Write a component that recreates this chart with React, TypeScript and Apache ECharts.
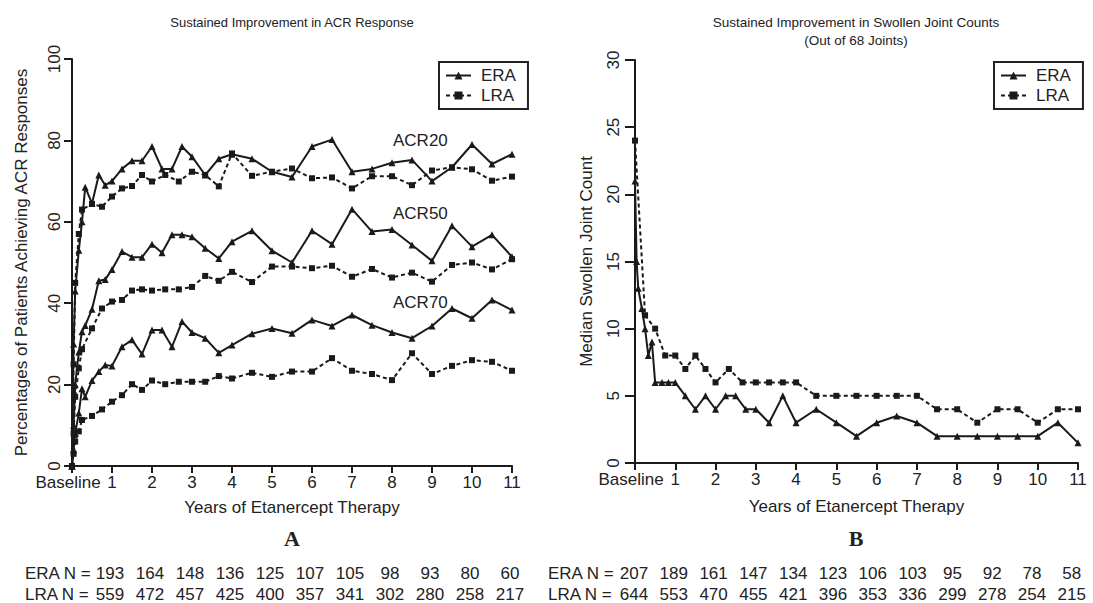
import React, { useEffect, useRef } from 'react';
import * as echarts from 'echarts';

const FONT = '"Liberation Sans", Arial, Helvetica, sans-serif';
const INK = '#1a1a1a';

// ---------- Panel A: ACR responses (%) ----------
const ERA_T = [0, 0.04, 0.08, 0.17, 0.25, 0.33, 0.5, 0.67, 0.83, 1, 1.25, 1.5, 1.75, 2, 2.25, 2.5, 2.75, 3, 3.33, 3.67, 4, 4.5, 5, 5.5, 6, 6.5, 7, 7.5, 8, 8.5, 9, 9.5, 10, 10.5, 11];
const ERA_ACR20 = [0, 30, 43, 53, 60, 68.5, 64.5, 71.5, 69, 70, 73, 75, 75, 78.5, 73, 73, 78.5, 76, 71.5, 75.5, 76.6, 75.5, 72.3, 71, 78.5, 80.2, 72.3, 73, 74.5, 75.2, 70, 73.4, 79, 74.2, 76.6];
const ERA_ACR50 = [0, 10, 20, 28, 33, 34.5, 38.5, 45.5, 45.8, 48.3, 52.7, 51.3, 51.3, 54.5, 52.4, 56.8, 56.8, 56.3, 53.5, 51, 55.1, 57.8, 52.9, 50, 57.8, 54.5, 63.1, 57.6, 58.1, 54.3, 50.4, 59, 53.9, 56.8, 51.4];
const ERA_ACR70 = [0, 4, 8, 13, 19, 17, 21, 23.2, 24.8, 24.6, 29.3, 31, 27.5, 33.4, 33.4, 29.3, 35.5, 32.8, 31.4, 27.8, 29.7, 32.5, 33.8, 32.6, 35.9, 34.4, 37.1, 34.6, 32.8, 31.4, 34.4, 38.7, 36.3, 40.8, 38.3];

const LRA_T = [0, 0.04, 0.08, 0.17, 0.25, 0.5, 0.75, 1, 1.25, 1.5, 1.75, 2, 2.33, 2.67, 3, 3.33, 3.67, 4, 4.5, 5, 5.5, 6, 6.5, 7, 7.5, 8, 8.5, 9, 9.5, 10, 10.5, 11];
const LRA_ACR20 = [0, 25, 45, 57, 63, 64.4, 63.7, 66.2, 68.2, 68.8, 71.5, 69.9, 71.5, 69.9, 72.3, 71.5, 68.7, 76.8, 71.3, 72.3, 73.1, 70.7, 70.9, 68.2, 71.2, 71.2, 69, 72.6, 73.4, 72.9, 70.1, 71.1];
const LRA_ACR50 = [0, 8, 17, 24, 28.7, 33.8, 38.7, 40.4, 40.8, 43.1, 43.4, 43.1, 43.4, 43.4, 44, 46.7, 45.5, 47.7, 45.2, 49, 49, 48.6, 49.2, 46.5, 48.4, 46.3, 47.5, 45.3, 49.4, 50, 48.3, 50.8];
const LRA_ACR70 = [0, 3, 6, 8.5, 11.3, 12.3, 13.9, 15.8, 17.4, 20.1, 18.7, 21, 20.1, 20.7, 20.7, 20.7, 22.1, 21.5, 22.9, 21.9, 23.2, 23.2, 26.5, 23.4, 22.6, 21.1, 27.7, 22.6, 24.6, 26, 25.6, 23.4];

// ---------- Panel B: median swollen joint count ----------
const ERA_SJC_T = [0, 0.04, 0.08, 0.17, 0.25, 0.33, 0.42, 0.5, 0.67, 0.83, 1, 1.25, 1.5, 1.75, 2, 2.25, 2.5, 2.75, 3, 3.33, 3.67, 4, 4.5, 5, 5.5, 6, 6.5, 7, 7.5, 8, 8.5, 9, 9.5, 10, 10.5, 11];
const ERA_SJC = [21, 15, 13, 11.5, 10, 8, 9, 6, 6, 6, 6, 5, 4, 5, 4, 5, 5, 4, 4, 3, 5, 3, 4, 3, 2, 3, 3.5, 3, 2, 2, 2, 2, 2, 2, 3, 1.5];
const LRA_SJC_T = [0, 0.25, 0.5, 0.75, 1, 1.25, 1.5, 1.75, 2, 2.33, 2.67, 3, 3.33, 3.67, 4, 4.5, 5, 5.5, 6, 6.5, 7, 7.5, 8, 8.5, 9, 9.5, 10, 10.5, 11];
const LRA_SJC = [24, 11, 10, 8, 8, 7, 8, 7, 6, 7, 6, 6, 6, 6, 6, 5, 5, 5, 5, 5, 5, 4, 4, 3, 4, 4, 3, 4, 4];

// ---------- Tick labels & annotations ----------
const X_TICK_LABELS = ['Baseline', '1', '2', '3', '4', '5', '6', '7', '8', '9', '10', '11'];
const ACR_LABELS = ['ACR20', 'ACR50', 'ACR70'];
const N_ERA_A = [193, 164, 148, 136, 125, 107, 105, 98, 93, 80, 60];
const N_LRA_A = [559, 472, 457, 425, 400, 357, 341, 302, 280, 258, 217];
const N_ERA_B = [207, 189, 161, 147, 134, 123, 106, 103, 95, 92, 78, 58];
const N_LRA_B = [644, 553, 470, 455, 421, 396, 353, 336, 299, 278, 254, 215];

const pairs = (t: number[], v: number[]) => t.map((x, i) => [x, v[i]]);

const eraSeries = (idx: number, vals: number[], t: number[]) => ({
  type: 'line',
  name: 'ERA',
  xAxisIndex: idx,
  yAxisIndex: idx,
  data: pairs(t, vals),
  symbol: 'triangle',
  symbolSize: 7,
  showAllSymbol: true,
  lineStyle: { color: INK, width: 2, type: 'solid' },
  itemStyle: { color: INK },
  z: 3,
});

const lraSeries = (idx: number, vals: number[], t: number[]) => ({
  type: 'line',
  name: 'LRA',
  xAxisIndex: idx,
  yAxisIndex: idx,
  data: pairs(t, vals),
  symbol: 'rect',
  symbolSize: 6,
  showAllSymbol: true,
  lineStyle: { color: INK, width: 2, type: [4, 3] },
  itemStyle: { color: INK },
  z: 2,
});

const xAxisCfg = (gridIndex: number, nameGap: number) => ({
  type: 'value',
  gridIndex,
  min: 0,
  max: 11,
  interval: 1,
  axisLine: { show: true, onZero: false, lineStyle: { color: INK, width: 2 } },
  axisTick: { show: true, length: 7, lineStyle: { color: INK, width: 2 } },
  splitLine: { show: false },
  axisLabel: {
    fontSize: 17,
    fontFamily: FONT,
    color: '#222',
    margin: 8,
    formatter: (v: number) => (v === 0 ? '{b|' + X_TICK_LABELS[0] + '}' : X_TICK_LABELS[Math.round(v)]),
    rich: { b: { fontSize: 17, fontFamily: FONT, color: '#222', padding: [0, 8, 0, 0] } },
  },
  name: 'Years of Etanercept Therapy',
  nameLocation: 'middle',
  nameGap,
  nameTextStyle: { fontSize: 17, fontFamily: FONT, color: '#222' },
});

const yAxisCfg = (
  gridIndex: number,
  max: number,
  interval: number,
  name: string,
  nameGap: number,
  tickLen: number,
  labelMargin: number,
) => ({
  type: 'value',
  gridIndex,
  min: 0,
  max,
  interval,
  axisLine: { show: true, onZero: false, lineStyle: { color: INK, width: 2 } },
  axisTick: { show: true, length: tickLen, lineStyle: { color: INK, width: 2 } },
  splitLine: { show: false },
  axisLabel: { fontSize: 17, fontFamily: FONT, color: '#222', rotate: 90, margin: labelMargin },
  name,
  nameLocation: 'middle',
  nameGap,
  nameTextStyle: { fontSize: 17, fontFamily: FONT, color: '#222' },
});

const legendCfg = (left: number) => ({
  left,
  top: 62,
  orient: 'vertical',
  data: ['ERA', 'LRA'],
  borderColor: '#222',
  borderWidth: 2,
  padding: [5, 12, 5, 6],
  itemWidth: 25,
  itemHeight: 10,
  itemGap: 3,
  textStyle: { fontSize: 17, fontFamily: FONT, color: '#222', padding: [0, 0, 0, 5] },
});

const txt = (x: number, y: number, text: string, extra: any = {}) => ({
  type: 'text',
  x,
  y,
  style: {
    text,
    fontSize: 17,
    fontFamily: FONT,
    fill: '#222',
    textAlign: 'center',
    textVerticalAlign: 'middle',
    ...extra,
  },
});

export default function App() {
  const ref = useRef<HTMLDivElement>(null);

  useEffect(() => {
    if (!ref.current) return;
    const chart = echarts.init(ref.current, undefined, { renderer: 'svg' });

    const graphics: any[] = [
      txt(292, 22, 'Sustained Improvement in ACR Response', { fontSize: 13 }),
      txt(856, 22, 'Sustained Improvement in Swollen Joint Counts', { fontSize: 13.5 }),
      txt(856, 40, '(Out of 68 Joints)', { fontSize: 13.5 }),
      txt(393, 140, ACR_LABELS[0], { textAlign: 'left' }),
      txt(393, 213, ACR_LABELS[1], { textAlign: 'left' }),
      txt(393, 302, ACR_LABELS[2], { textAlign: 'left' }),
      txt(292, 538, 'A', { fontSize: 22, fontWeight: 'bold', fontFamily: '"Liberation Serif", "Times New Roman", serif' }),
      txt(856, 538, 'B', { fontSize: 22, fontWeight: 'bold', fontFamily: '"Liberation Serif", "Times New Roman", serif' }),
      txt(25, 573, 'ERA N =', { textAlign: 'left' }),
      txt(25, 594, 'LRA N =', { textAlign: 'left' }),
      txt(548, 573, 'ERA N =', { textAlign: 'left' }),
      txt(548, 594, 'LRA N =', { textAlign: 'left' }),
    ];
    N_ERA_A.forEach((n, i) => graphics.push(txt(110 + 40 * i, 573, String(n))));
    N_LRA_A.forEach((n, i) => graphics.push(txt(110 + 40 * i, 594, String(n))));
    N_ERA_B.forEach((n, i) => graphics.push(txt(634 + 39.8 * i, 573, String(n))));
    N_LRA_B.forEach((n, i) => graphics.push(txt(634 + 39.8 * i, 594, String(n))));

    chart.setOption({
      animation: false,
      backgroundColor: '#ffffff',
      textStyle: { fontFamily: FONT },
      grid: [
        { left: 72, right: 1093 - 512, top: 59, bottom: 603 - 466, containLabel: false },
        { left: 635, right: 1093 - 1078, top: 60, bottom: 603 - 463, containLabel: false },
      ],
      xAxis: [xAxisCfg(0, 33), xAxisCfg(1, 35)],
      yAxis: [
        yAxisCfg(0, 100, 20, 'Percentages of Patients Achieving ACR Responses', 42, 8, 9),
        yAxisCfg(1, 30, 5, 'Median Swollen Joint Count', 40, 10, 13),
      ],
      legend: [legendCfg(439), legendCfg(994)],
      series: [
        eraSeries(0, ERA_ACR20, ERA_T),
        eraSeries(0, ERA_ACR50, ERA_T),
        eraSeries(0, ERA_ACR70, ERA_T),
        lraSeries(0, LRA_ACR20, LRA_T),
        lraSeries(0, LRA_ACR50, LRA_T),
        lraSeries(0, LRA_ACR70, LRA_T),
        eraSeries(1, ERA_SJC, ERA_SJC_T),
        lraSeries(1, LRA_SJC, LRA_SJC_T),
      ],
      graphic: graphics,
    });

    return () => chart.dispose();
  }, []);

  return (
    <div
      ref={ref}
      style={{ position: 'fixed', left: 0, top: 0, width: 1093, height: 603, background: '#fff' }}
    />
  );
}
